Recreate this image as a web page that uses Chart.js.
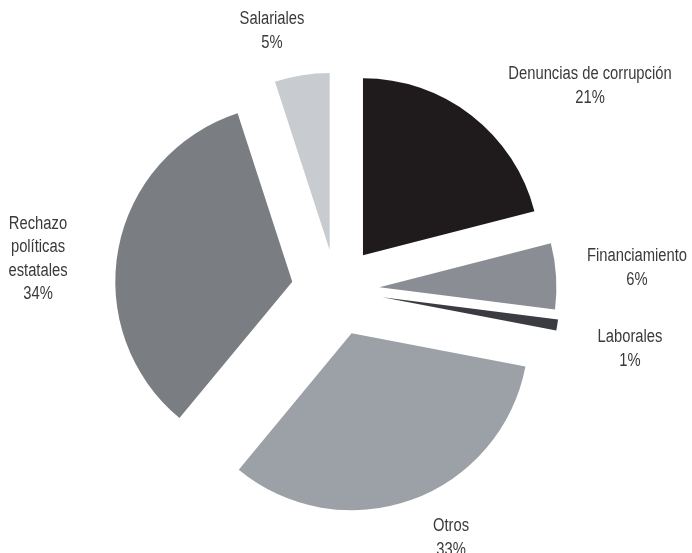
<!DOCTYPE html>
<html>
<head>
<meta charset="utf-8">
<script src="https://cdn.jsdelivr.net/npm/chart.js@4.4.1/dist/chart.umd.min.js"></script>
<style>
    html, body { margin: 0; padding: 0; background: #fff; }
    #wrap { width: 692px; height: 553px; }
</style>
</head>
<body>
<div id="wrap"><canvas id="pieChart" width="692" height="553"></canvas></div>
<script>
// Categories (multi-line where the original wraps) and their shares
const categories = [
    ["Denuncias de corrupción"],
    ["Financiamiento"],
    ["Laborales"],
    ["Otros"],
    ["Rechazo", "políticas", "estatales"],
    ["Salariales"]
];
const shares = [21, 6, 1, 33, 34, 5];

// Slice styling
const sliceColors = ["#1f1b1c", "#8a8e94", "#3b3c41", "#9ba1a6", "#7a7e83", "#c8cbcf"];
const explodeBy = [44, 43.5, 47, 46, 44.5, 40.5]; // px each slice is pulled out of the pie
const PIE_RADIUS = 177;

// Label block centres, relative to the pie centre
const labelOffsets = [[254, -204], [301, -22], [294, 59], [115, 248], [-298, -31], [-64, -259]];
const LINE_HEIGHT = 23.5;
const TEXT_SQUEEZE = 0.82; // condensed look of the original typeface

function pieCentre(chart) {
    const a = chart.chartArea;
    return { x: (a.left + a.right) / 2, y: (a.top + a.bottom) / 2 };
}

// Pulls each slice out along its mid angle (chart.js' own offset trims thin slices)
const explode = {
    id: "explode",
    beforeDatasetDraw(chart) {
        const c = pieCentre(chart);
        chart.getDatasetMeta(0).data.forEach((arc, i) => {
            const mid = (arc.startAngle + arc.endAngle) / 2;
            arc.x = c.x + Math.cos(mid) * explodeBy[i];
            arc.y = c.y + Math.sin(mid) * explodeBy[i];
        });
    }
};

// Draws the category name + percentage outside each slice
const outsideLabels = {
    id: "outsideLabels",
    afterDatasetsDraw(chart) {
        const ctx = chart.ctx;
        const c = pieCentre(chart);
        const total = shares.reduce((a, b) => a + b, 0);
        ctx.save();
        ctx.font = '18px "Liberation Sans", Arial, sans-serif';
        ctx.fillStyle = "#3a3a3a";
        ctx.textAlign = "center";
        ctx.textBaseline = "middle";
        categories.forEach((name, i) => {
            const lines = [...name, Math.round(shares[i] / total * 100) + "%"];
            const cx = c.x + labelOffsets[i][0];
            const top = c.y + labelOffsets[i][1] - (lines.length - 1) * LINE_HEIGHT / 2;
            lines.forEach((line, j) => {
                ctx.save();
                ctx.translate(cx, top + j * LINE_HEIGHT);
                ctx.scale(TEXT_SQUEEZE, 1);
                ctx.fillText(line, 0, 0);
                ctx.restore();
            });
        });
        ctx.restore();
    }
};

new Chart(document.getElementById("pieChart"), {
    type: "pie",
    data: {
        labels: categories,
        datasets: [{
            data: shares,
            backgroundColor: sliceColors,
            borderWidth: 0
        }]
    },
    options: {
        responsive: false,
        animation: false,
        radius: PIE_RADIUS,
        layout: { padding: { left: 0, right: 20, top: 27, bottom: 0 } },
        plugins: {
            legend: { display: false },
            tooltip: { enabled: false }
        },
        events: []
    },
    plugins: [explode, outsideLabels]
});
</script>
</body>
</html>
